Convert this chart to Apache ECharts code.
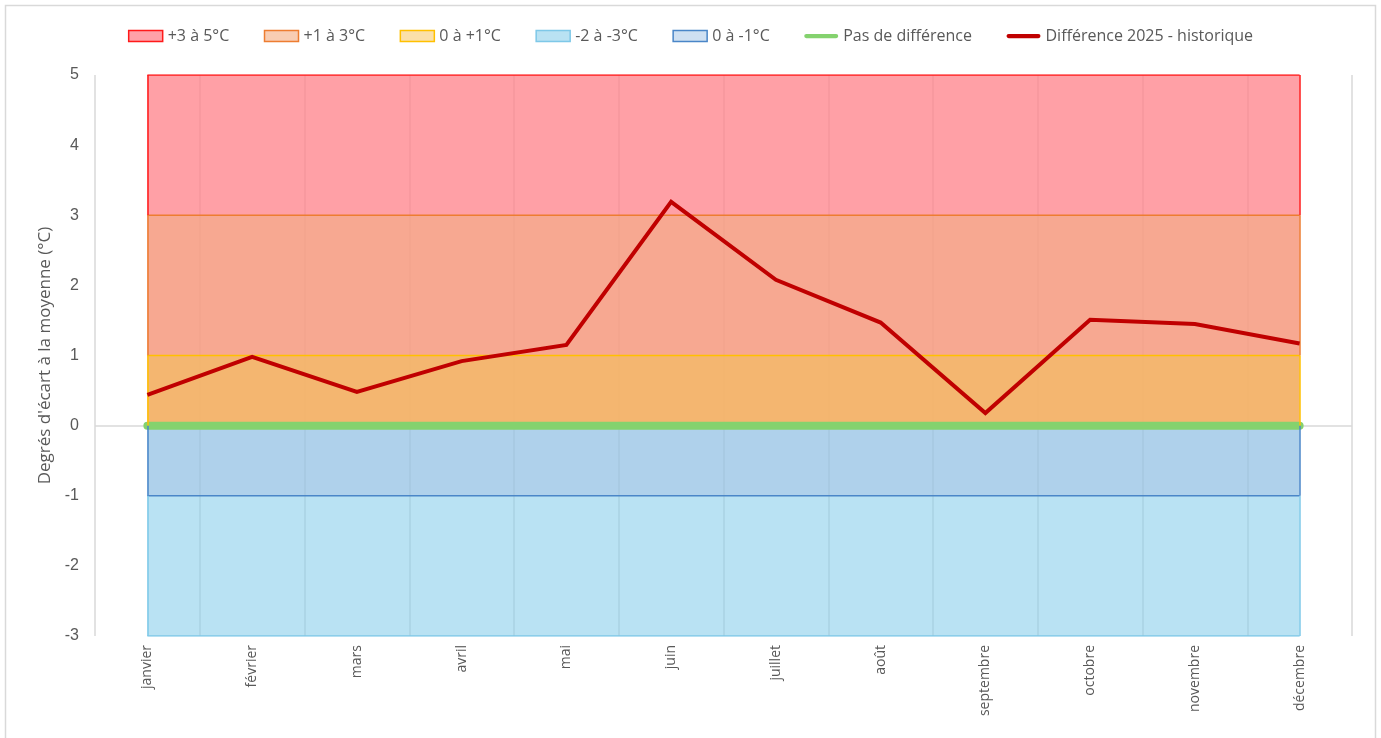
<!DOCTYPE html>
<html>
<head>
<meta charset="utf-8">
<script src="https://cdn.jsdelivr.net/npm/echarts@6/dist/echarts.min.js"></script>
<style>
html,body{margin:0;padding:0;background:#fff;}
#c{width:1381px;height:738px;}
</style>
</head>
<body>
<div id="c"></div>
<script>
const months = ['janvier','février','mars','avril','mai','juin','juillet','août','septembre','octobre','novembre','décembre'];
// band limits (°C)
const band3to5Top = [5,5,5,5,5,5,5,5,5,5,5,5];
const band1to3Top = [3,3,3,3,3,3,3,3,3,3,3,3];
const band0to1Top = [1,1,1,1,1,1,1,1,1,1,1,1];
const bandM2toM3Bottom = [-3,-3,-3,-3,-3,-3,-3,-3,-3,-3,-3,-3];
const band0toM1Bottom = [-1,-1,-1,-1,-1,-1,-1,-1,-1,-1,-1,-1];
const noDiff = [0,0,0,0,0,0,0,0,0,0,0,0];
const diff2025 = [0.44,0.98,0.48,0.92,1.15,3.19,2.08,1.47,0.18,1.51,1.45,1.17];
const yTicks = [-3,-2,-1,0,1,2,3,4,5];

const FONT = 'Open Sans';
const TXT = '#595959';
const LINE_ICON = 'path://M2.5,0 L37.5,0 A2.5,2.5 0 0 1 37.5,5 L2.5,5 A2.5,2.5 0 0 1 2.5,0 Z';

function edge(color, lo, hi){
  const first = months[0], last = months[months.length-1];
  return {
    silent:true, symbol:['none','none'], label:{show:false},
    lineStyle:{color:color,width:1.5,type:'solid'},
    data:[
      [{coord:[first,lo]},{coord:[first,hi]}],
      [{coord:[last,lo]},{coord:[last,hi]}]
    ]
  };
}
function band(name, data, fill, stroke, lo, hi){
  return {
    name:name, type:'line', data:data, symbol:'none', showSymbol:false,
    lineStyle:{color:stroke,width:1.5}, itemStyle:{color:stroke},
    areaStyle:{color:fill,opacity:1}, silent:true, z:2,
    markLine: edge(stroke, lo, hi)
  };
}

const chart = echarts.init(document.getElementById('c'), null, {renderer:'canvas'});
chart.setOption({
  animation:false,
  backgroundColor:'#fff',
  textStyle:{fontFamily:FONT},
  graphic:[{type:'rect',shape:{x:5.5,y:5.5,width:1370,height:745},style:{fill:'none',stroke:'#d9d9d9',lineWidth:1.5},silent:true}],
  legend:{
    top:23, left:'center', itemGap:34.5, itemWidth:34, itemHeight:11, symbolKeepAspect:true,
    textStyle:{color:TXT,fontSize:16,fontFamily:FONT},
    data:[
      {name:'+3 à 5°C', icon:'rect', itemStyle:{color:'#ffa1a8',borderColor:'#ff1a1a',borderWidth:1.5}},
      {name:'+1 à 3°C', icon:'rect', itemStyle:{color:'#f8cdb3',borderColor:'#ed7d31',borderWidth:1.5}},
      {name:'0 à +1°C', icon:'rect', itemStyle:{color:'#fbe0aa',borderColor:'#ffc000',borderWidth:1.5}},
      {name:'-2 à -3°C', icon:'rect', itemStyle:{color:'#b9e2f3',borderColor:'#7ec8e8',borderWidth:1.5}},
      {name:'0 à -1°C', icon:'rect', itemStyle:{color:'#cfe0f2',borderColor:'#4a86c8',borderWidth:1.5}},
      {name:'Pas de différence', icon:LINE_ICON, itemStyle:{color:'#84d26e',borderWidth:0}},
      {name:'Différence 2025 - historique', icon:LINE_ICON, itemStyle:{color:'#c00000',borderWidth:0}}
    ]
  },
  grid:{left:95,right:29,top:75,bottom:102,containLabel:false},
  xAxis:{
    type:'category', data:months, boundaryGap:true,
    axisLine:{show:false}, axisTick:{show:false},
    splitLine:{show:true,lineStyle:{color:'#d9d9d9',width:1.5}},
    axisLabel:{rotate:90,color:TXT,fontSize:14,margin:9,fontFamily:FONT,interval:0}
  },
  yAxis:{
    type:'value', min:yTicks[0], max:yTicks[yTicks.length-1], interval:1,
    name:"Degrés d'écart à la moyenne (°C)", nameLocation:'middle', nameGap:41,
    nameTextStyle:{color:TXT,fontSize:17,fontFamily:FONT},
    axisLine:{show:false}, axisTick:{show:false}, splitLine:{show:false},
    axisLabel:{color:TXT,fontSize:16,margin:16,fontFamily:'Liberation Sans'}
  },
  series:[
    band('+3 à 5°C', band3to5Top, 'rgba(255,128,136,0.75)', '#ff1a1a', band1to3Top[0], band3to5Top[0]),
    band('+1 à 3°C', band1to3Top, 'rgba(242,173,131,0.6)', '#ed7d31', band0to1Top[0], band1to3Top[0]),
    band('0 à +1°C', band0to1Top, 'rgba(242,191,90,0.6)', '#ffc000', noDiff[0], band0to1Top[0]),
    band('-2 à -3°C', bandM2toM3Bottom, 'rgba(138,207,235,0.6)', '#7ec8e8', bandM2toM3Bottom[0], band0toM1Bottom[0]),
    band('0 à -1°C', band0toM1Bottom, 'rgba(160,186,223,0.4)', '#4a86c8', band0toM1Bottom[0], noDiff[0]),
    {
      name:'Pas de différence', type:'line', data:noDiff, symbol:'none', showSymbol:false, z:4,
      lineStyle:{color:'#84d26e',width:8,cap:'round'}, itemStyle:{color:'#84d26e'},
      markLine:{silent:true,symbol:['none','none'],label:{show:false},z:1,
        lineStyle:{color:'#d9d9d9',width:1.5,type:'solid'},data:[{yAxis:0}]}
    },
    {
      name:'Différence 2025 - historique', type:'line', data:diff2025, symbol:'none', showSymbol:false, z:5,
      lineStyle:{color:'#c00000',width:4,join:'miter'}, itemStyle:{color:'#c00000'}
    }
  ]
});
</script>
</body>
</html>
